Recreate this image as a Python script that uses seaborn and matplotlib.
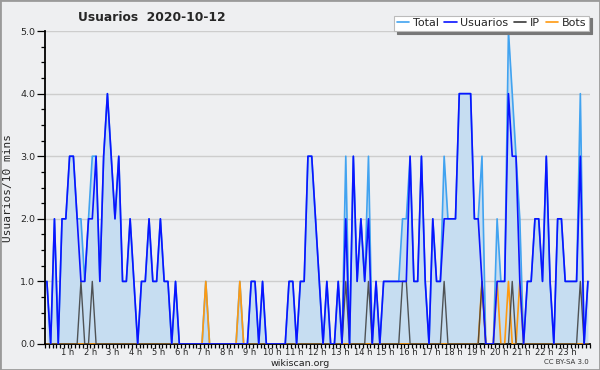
import matplotlib
matplotlib.use("Agg")
import matplotlib.pyplot as plt
import seaborn as sns
import pandas as pd
from matplotlib.ticker import MultipleLocator, FixedLocator, FormatStrFormatter
from matplotlib.lines import Line2D
from matplotlib.patches import Rectangle

title = "Usuarios  2020-10-12"
hours = list(range(1, 24))
hour_labels = [f"{h} h" for h in hours]
series_names = ["Total", "Usuarios", "IP", "Bots"]

# values per 10-minute slot (144 slots)
usuarios = [
    1, 0, 2, 0, 2, 2, 3, 3, 2, 1, 1, 2, 2, 3, 1, 3, 4, 3, 2, 3, 1, 1, 2, 1,
    0, 1, 1, 2, 1, 1, 2, 1, 1, 0, 1, 0, 0, 0, 0, 0, 0, 0, 0, 0, 0, 0, 0, 0,
    0, 0, 0, 0, 0, 0, 1, 1, 0, 1, 0, 0, 0, 0, 0, 0, 1, 1, 0, 1, 1, 3, 3, 2,
    1, 0, 1, 0, 0, 1, 0, 2, 0, 3, 1, 2, 1, 2, 0, 1, 0, 1, 1, 1, 1, 1, 1, 1,
    3, 1, 1, 3, 1, 0, 2, 1, 1, 2, 2, 2, 2, 4, 4, 4, 4, 2, 2, 1, 0, 0, 0, 1,
    1, 1, 4, 3, 3, 1, 0, 1, 1, 2, 2, 1, 3, 1, 0, 2, 2, 1, 1, 1, 1, 3, 0, 1,
]
ip = [
    0, 0, 0, 0, 0, 0, 0, 0, 0, 1, 0, 0, 1, 0, 0, 0, 0, 0, 0, 0, 0, 0, 0, 0,
    0, 0, 0, 0, 0, 0, 0, 0, 0, 0, 0, 0, 0, 0, 0, 0, 0, 0, 0, 0, 0, 0, 0, 0,
    0, 0, 0, 0, 0, 0, 0, 0, 0, 0, 0, 0, 0, 0, 0, 0, 0, 0, 0, 0, 0, 0, 0, 0,
    0, 0, 0, 0, 0, 0, 0, 1, 0, 0, 0, 0, 0, 1, 0, 0, 0, 0, 0, 0, 0, 0, 1, 1,
    0, 0, 0, 0, 0, 0, 0, 0, 0, 1, 0, 0, 0, 0, 0, 0, 0, 0, 0, 1, 0, 0, 0, 0,
    0, 0, 0, 1, 0, 0, 0, 0, 0, 0, 0, 0, 0, 0, 0, 0, 0, 0, 0, 0, 0, 1, 0, 0,
]
bots = [
    0, 0, 0, 0, 0, 0, 0, 0, 0, 0, 0, 0, 0, 0, 0, 0, 0, 0, 0, 0, 0, 0, 0, 0,
    0, 0, 0, 0, 0, 0, 0, 0, 0, 0, 0, 0, 0, 0, 0, 0, 0, 0, 1, 0, 0, 0, 0, 0,
    0, 0, 0, 1, 0, 0, 0, 0, 0, 0, 0, 0, 0, 0, 0, 0, 0, 0, 0, 0, 0, 0, 0, 0,
    0, 0, 0, 0, 0, 0, 0, 0, 0, 0, 0, 0, 0, 0, 0, 0, 0, 0, 0, 0, 0, 0, 0, 0,
    0, 0, 0, 0, 0, 0, 0, 0, 0, 0, 0, 0, 0, 0, 0, 0, 0, 0, 0, 1, 0, 0, 0, 1,
    0, 0, 1, 0, 0, 1, 0, 0, 0, 0, 0, 0, 0, 0, 0, 0, 0, 0, 0, 0, 0, 0, 0, 0,
]
total = [
    1, 0, 2, 0, 2, 2, 3, 3, 2, 2, 1, 2, 3, 3, 1, 3, 4, 3, 2, 3, 1, 1, 2, 1,
    0, 1, 1, 2, 1, 1, 2, 1, 1, 0, 1, 0, 0, 0, 0, 0, 0, 0, 1, 0, 0, 0, 0, 0,
    0, 0, 0, 1, 0, 0, 1, 1, 0, 1, 0, 0, 0, 0, 0, 0, 1, 1, 0, 1, 1, 3, 3, 2,
    1, 0, 1, 0, 0, 1, 0, 3, 0, 3, 1, 2, 1, 3, 0, 1, 0, 1, 1, 1, 1, 1, 2, 2,
    3, 1, 1, 3, 1, 0, 2, 1, 1, 3, 2, 2, 2, 4, 4, 4, 4, 2, 2, 3, 0, 0, 0, 2,
    1, 1, 5, 4, 3, 2, 0, 1, 1, 2, 2, 1, 3, 1, 0, 2, 2, 1, 1, 1, 1, 4, 0, 1,
]

slot = [i + 0.5 for i in range(len(usuarios))]
df = pd.DataFrame({"slot": slot, "Total": total, "Usuarios": usuarios,
                   "IP": ip, "Bots": bots})

sns.set_style("white")
plt.rcParams["font.family"] = ["DejaVu Sans"]

BG = "#eeeff1"
fig = plt.figure(figsize=(6.0, 3.7), dpi=100, facecolor=BG)
ax = fig.add_axes([0.075, 0.0703, 0.908, 0.8457])
ax.set_facecolor(BG)

colors = {"Total": "#41a3f0", "Usuarios": "#0a14ff", "IP": "#3a3a3a", "Bots": "#ff9a10"}

ax.fill_between(df["slot"], 0, df["Total"], color="#c6ddf1", lw=0, zorder=1)
sns.lineplot(data=df, x="slot", y="Total", ax=ax, color=colors["Total"], lw=1.2, zorder=3)
sns.lineplot(data=df, x="slot", y="Bots", ax=ax, color=colors["Bots"], lw=1.2, zorder=4)
sns.lineplot(data=df, x="slot", y="IP", ax=ax, color=colors["IP"], lw=1.0, alpha=0.85, zorder=5)
sns.lineplot(data=df, x="slot", y="Usuarios", ax=ax, color=colors["Usuarios"], lw=1.2, zorder=6)

ax.set_xlim(0, 144)
ax.set_ylim(0, 5)
ax.set_xlabel("")
ax.set_ylabel("Usuarios/10 mins", family="DejaVu Sans Mono", fontsize=8, labelpad=5)

ax.xaxis.set_major_locator(FixedLocator([6 * h for h in hours]))
ax.set_xticklabels(hour_labels)
ax.xaxis.set_minor_locator(MultipleLocator(1))
ax.yaxis.set_major_locator(MultipleLocator(1))
ax.yaxis.set_minor_locator(MultipleLocator(0.25))
ax.yaxis.set_major_formatter(FormatStrFormatter("%.1f"))

ax.tick_params(axis="x", which="both", direction="out", length=3, width=0.9,
               color="black", labelsize=6.0, pad=-0.3, bottom=True)
ax.tick_params(axis="y", which="major", direction="out", length=6, width=0.9,
               color="black", labelsize=6.8, pad=1, left=True)
ax.tick_params(axis="y", which="minor", direction="out", length=3, width=0.9,
               color="black", left=True)

for s in ["top", "right"]:
    ax.spines[s].set_visible(False)
for s in ["left", "bottom"]:
    ax.spines[s].set_color("black")
    ax.spines[s].set_linewidth(1.3)

ax.grid(axis="y", which="major", color="#cdcdcd", lw=1.0, zorder=0)
ax.set_axisbelow(True)

fig.text(0.253, 0.953, title, ha="center", va="center", fontsize=8.8, fontweight="bold")
fig.text(0.5, 0.0115, "wikiscan.org", ha="center", va="baseline", fontsize=6.8, color="#222222")
fig.text(0.982, 0.016, "CC BY-SA 3.0", ha="right", va="baseline", fontsize=5, color="#333333")

handles = [Line2D([0], [0], color=colors[n], lw=1.2) for n in series_names]
leg = fig.legend(handles, series_names, loc="upper right", bbox_to_anchor=(0.982, 0.958),
                 ncol=4, fontsize=8, frameon=True, fancybox=False, framealpha=1,
                 edgecolor="#bbbbbb", facecolor="white", handlelength=1.1,
                 handletextpad=0.35, columnspacing=0.5, borderpad=0.25,
                 borderaxespad=0.0, shadow={"color": "#777777", "alpha": 1.0})
leg.get_frame().set_linewidth(0.8)

fig.patches.append(Rectangle((0, 0), 1, 1, transform=fig.transFigure, fill=False,
                             edgecolor="#9a9a9a", lw=2))

fig.savefig("out.png", dpi=100, facecolor=BG)
